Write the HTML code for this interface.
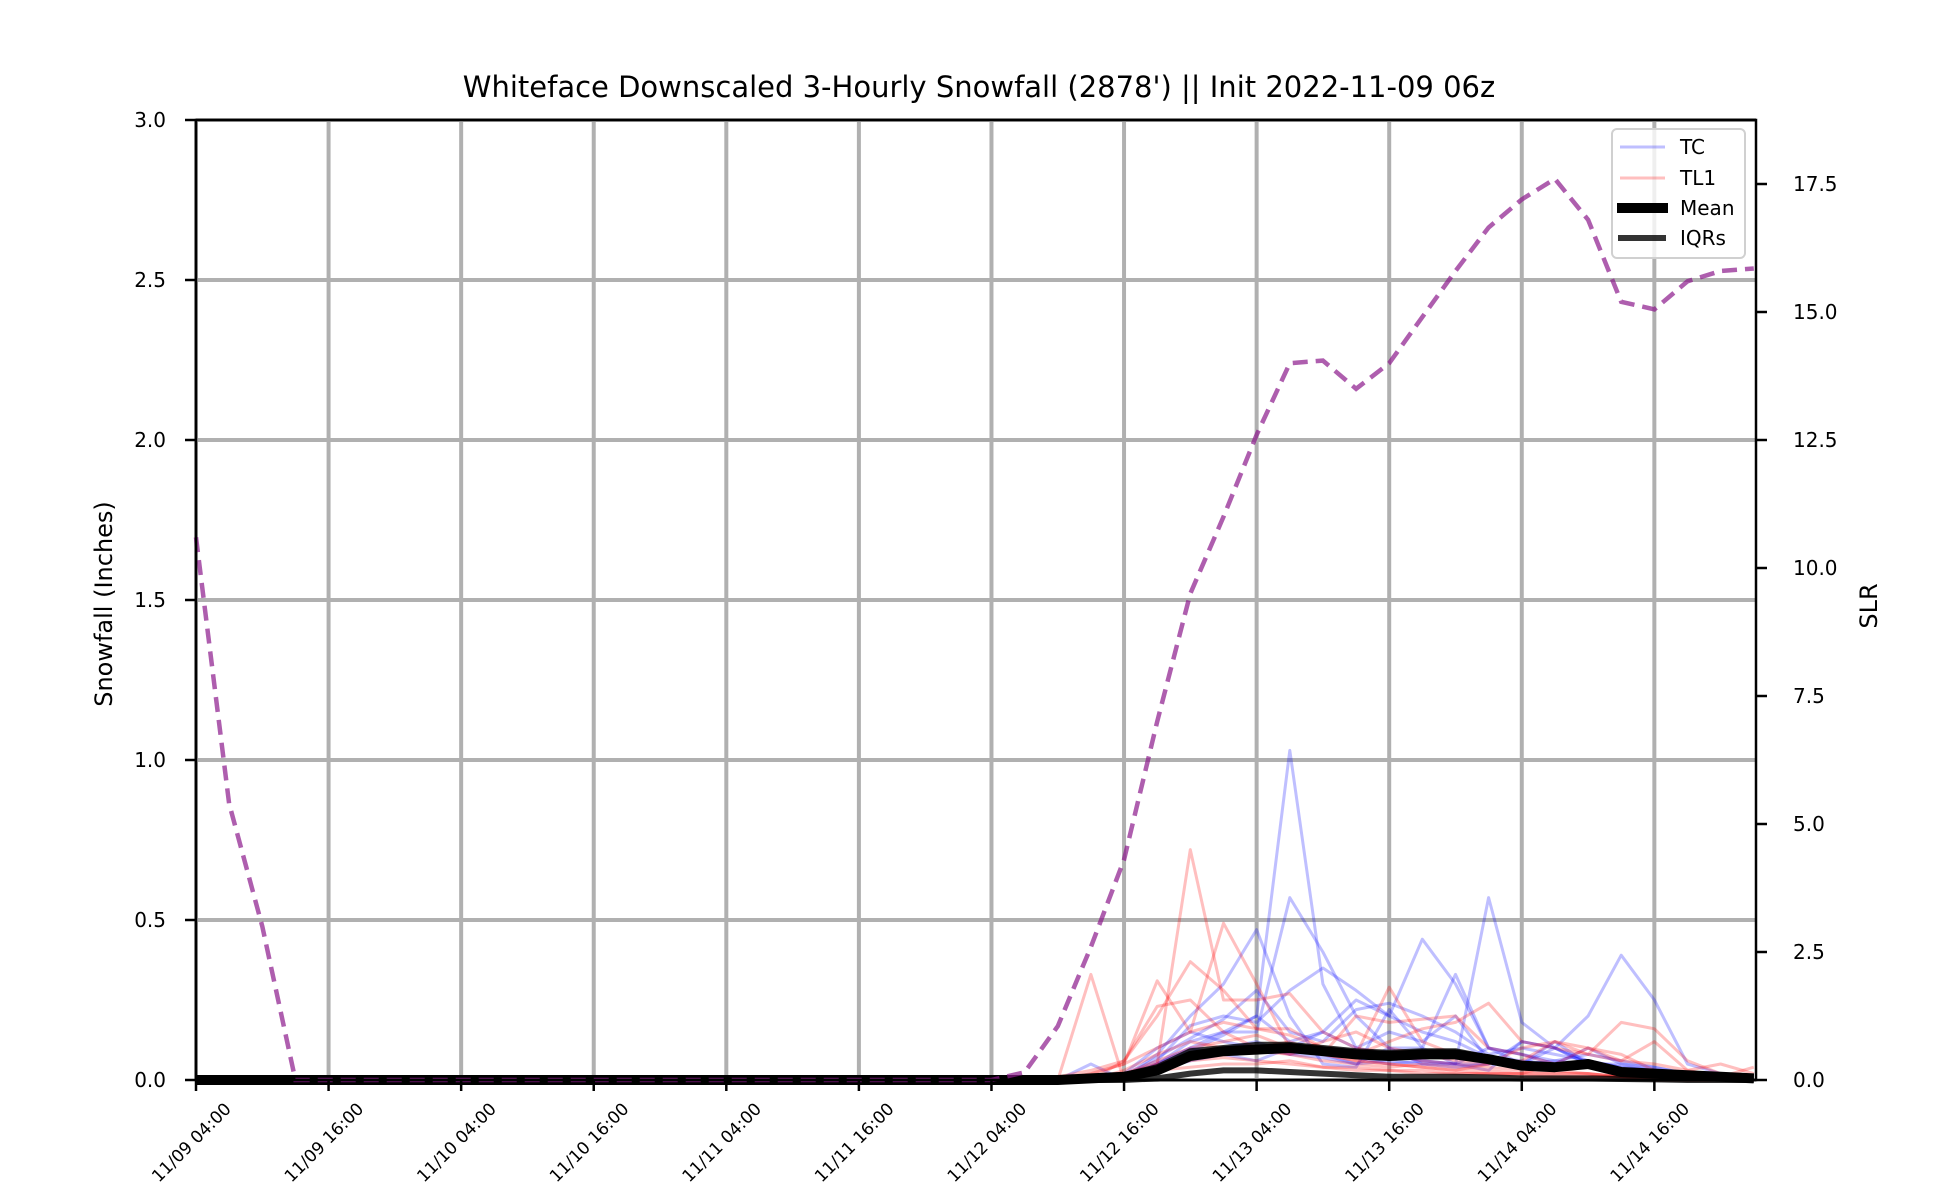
<!DOCTYPE html>
<html><head><meta charset="utf-8"><style>
html,body{margin:0;padding:0;background:#fff;}
svg{display:block;font-family:"DejaVu Sans","Liberation Sans",sans-serif;}
</style></head><body>
<svg id="chart" width="1950" height="1200" viewBox="0 0 1950 1200" xmlns="http://www.w3.org/2000/svg">
<rect width="1950" height="1200" fill="#fff"/>
<text x="979" y="97" font-size="29" text-anchor="middle">Whiteface Downscaled 3-Hourly Snowfall (2878') || Init 2022-11-09 06z</text>
<text transform="translate(112,604) rotate(-90)" font-size="24" text-anchor="middle">Snowfall (Inches)</text>
<text transform="translate(1877,606) rotate(-90)" font-size="24" text-anchor="middle">SLR</text>
<g id="grid"></g>
<g id="members"></g>
<g id="stats"></g>
<g id="slr"></g>
<g id="axes"></g>
<g id="legend">
<rect x="1612" y="129" width="133" height="129" rx="5" fill="#fff" fill-opacity="0.8" stroke="#d0d0d0" stroke-width="2"/>
<line x1="1620" y1="147" x2="1665" y2="147" stroke="#0000ff" stroke-opacity="0.25" stroke-width="3"/>
<text x="1680" y="154" font-size="20">TC</text>
<line x1="1620" y1="178" x2="1665" y2="178" stroke="#ff0000" stroke-opacity="0.25" stroke-width="3"/>
<text x="1680" y="185" font-size="20">TL1</text>
<line x1="1617" y1="208" x2="1668" y2="208" stroke="#000" stroke-width="10"/>
<text x="1680" y="215" font-size="20">Mean</text>
<line x1="1618" y1="238" x2="1666" y2="238" stroke="#000" stroke-opacity="0.8" stroke-width="6"/>
<text x="1680" y="245" font-size="20">IQRs</text>
</g>
</svg>
<script>
// hours from 11/09 04:00; member data starts at hour 78, 3-hourly
const xTickLabels = ["11/09 04:00","11/09 16:00","11/10 04:00","11/10 16:00","11/11 04:00","11/11 16:00","11/12 04:00","11/12 16:00","11/13 04:00","11/13 16:00","11/14 04:00","11/14 16:00"];
const yTicks = [0,0.5,1.0,1.5,2.0,2.5,3.0];
const y2Ticks = [0,2.5,5,7.5,10,12.5,15,17.5];
const memberStartHour = 78;
const slrValues = [10.6,5.4,3.0,0,0,0,0,0,0,0,0,0,0,0,0,0,0,0,0,0,0,0,0,0,0,0.15,1.05,2.6,4.3,7.0,9.5,11.0,12.6,14.0,14.05,13.5,14.0,14.9,15.8,16.65,17.2,17.6,16.8,15.2,15.05,15.6,15.8,15.85];
const tcMembers = [
[0,0,0,0.05,0.1,0.15,0.2,1.03,0.3,0.1,0.08,0.06,0.05,0.1,0.08,0.05,0.1,0.05,0.03,0.02,0.01,0],
[0,0.05,0,0.05,0.12,0.15,0.15,0.57,0.4,0.2,0.1,0.05,0.04,0.05,0.12,0.1,0.06,0.04,0.03,0.02,0,0],
[0,0,0.01,0.08,0.2,0.3,0.47,0.2,0.05,0.04,0.22,0.1,0.05,0.03,0.12,0.1,0.05,0.03,0.02,0.01,0,0],
[0,0,0.02,0.1,0.15,0.12,0.1,0.1,0.15,0.25,0.2,0.44,0.3,0.1,0.05,0.06,0.08,0.06,0.04,0.02,0.01,0],
[0,0,0.01,0.05,0.1,0.08,0.06,0.1,0.08,0.05,0.1,0.1,0.33,0.1,0.08,0.06,0.05,0.05,0.04,0.02,0,0],
[0,0,0,0.02,0.08,0.1,0.12,0.08,0.07,0.05,0.06,0.05,0.05,0.57,0.18,0.1,0.05,0.03,0.02,0.01,0,0],
[0,0,0,0.03,0.06,0.08,0.1,0.08,0.1,0.07,0.05,0.06,0.05,0.05,0.05,0.1,0.2,0.39,0.25,0.05,0.02,0],
[0,0,0.01,0.06,0.17,0.2,0.18,0.28,0.35,0.28,0.2,0.15,0.12,0.07,0.06,0.05,0.04,0.03,0.02,0.01,0,0],
[0,0,0.01,0.07,0.13,0.19,0.28,0.15,0.12,0.22,0.24,0.2,0.15,0.08,0.1,0.08,0.06,0.04,0.03,0.01,0,0],
[0,0,0,0.04,0.09,0.14,0.2,0.12,0.15,0.1,0.15,0.12,0.2,0.06,0.05,0.12,0.05,0.03,0.02,0.01,0,0]
];
const tl1Members = [
[0,0.33,0,0.05,0.72,0.25,0.25,0.27,0.15,0.1,0.08,0.06,0.05,0.04,0.03,0.02,0.02,0.01,0.01,0,0,0],
[0,0.02,0.05,0.31,0.15,0.49,0.3,0.1,0.08,0.06,0.05,0.04,0.03,0.02,0.02,0.01,0.01,0.01,0,0,0,0],
[0,0,0.06,0.2,0.37,0.28,0.16,0.16,0.1,0.08,0.29,0.12,0.08,0.06,0.05,0.03,0.02,0.01,0.01,0,0,0],
[0.01,0.03,0.06,0.23,0.25,0.15,0.1,0.12,0.08,0.2,0.18,0.19,0.2,0.1,0.08,0.05,0.04,0.03,0.02,0.01,0,0],
[0,0.02,0.05,0.1,0.15,0.18,0.16,0.14,0.1,0.08,0.12,0.16,0.18,0.24,0.12,0.1,0.08,0.18,0.16,0.06,0.02,0],
[0,0,0.03,0.08,0.12,0.1,0.09,0.08,0.12,0.15,0.1,0.08,0.06,0.05,0.1,0.12,0.1,0.06,0.12,0.03,0.05,0.02],
[0,0,0.02,0.06,0.1,0.12,0.14,0.1,0.08,0.06,0.05,0.04,0.03,0.05,0.06,0.12,0.08,0.06,0.05,0.03,0.01,0.04],
[0,0,0.02,0.05,0.08,0.09,0.1,0.08,0.06,0.05,0.04,0.05,0.04,0.03,0.02,0.05,0.1,0.08,0.03,0.02,0.01,0],
[0,0,0.01,0.04,0.06,0.07,0.06,0.05,0.04,0.04,0.03,0.03,0.02,0.02,0.02,0.02,0.02,0.01,0.01,0,0,0],
[0,0,0.01,0.03,0.04,0.05,0.05,0.06,0.04,0.03,0.03,0.02,0.02,0.02,0.01,0.01,0.01,0.01,0,0,0,0]
];
const meanValues = [0,0.005,0.01,0.03,0.075,0.09,0.095,0.1,0.09,0.08,0.075,0.08,0.08,0.065,0.045,0.04,0.05,0.025,0.02,0.015,0.01,0.005];
const q25Values = [0,0,0,0.005,0.02,0.03,0.03,0.025,0.02,0.015,0.01,0.01,0.01,0.008,0.005,0.005,0.005,0.003,0.002,0,0,0];
const q75Values = [0,0.01,0.015,0.04,0.09,0.1,0.11,0.11,0.1,0.09,0.085,0.09,0.09,0.07,0.05,0.045,0.055,0.03,0.025,0.02,0.01,0.005];

const L=196,R=1756,T=120,B=1080,HMAX=141.2,YMAX=3.0,Y2MAX=18.75;
const NS="http://www.w3.org/2000/svg";
const xS=h=>L+(h/HMAX)*(R-L);
const yS=v=>B-(v/YMAX)*(B-T);
const y2S=v=>B-(v/Y2MAX)*(B-T);
function mk(tag,attrs,parent){const e=document.createElementNS(NS,tag);for(const k in attrs)e.setAttribute(k,attrs[k]);parent.appendChild(e);return e;}
const grid=document.getElementById('grid'),axes=document.getElementById('axes');
xTickLabels.forEach((lab,i)=>{
  const x=xS(i*12);
  const g=mk('line',{x1:x,x2:x,y1:T,y2:B,stroke:'#b0b0b0','stroke-width':4},grid);
  
  
  const t=mk('line',{x1:x,x2:x,y1:B,y2:B+11,stroke:'#000','stroke-width':2.5},axes);
  
  
  const tx=mk('text',{transform:`translate(${x+36},${B+30}) rotate(-45)`,'font-size':17,'text-anchor':'end'},axes);
  tx.textContent=lab;
  
  
});
yTicks.forEach(v=>{
  const y=yS(v);
  const g=mk('line',{x1:L,x2:R,y1:y,y2:y,stroke:'#b0b0b0','stroke-width':4},grid);
  
  
  const t=mk('line',{x1:L-11,x2:L,y1:y,y2:y,stroke:'#000','stroke-width':2.5},axes);
  
  
  const tx=mk('text',{x:L-30,y:y+7,'font-size':20,'text-anchor':'end'},axes);
  tx.textContent=v.toFixed(1);
  
  
});
y2Ticks.forEach(v=>{
  const y=y2S(v);
  const t=mk('line',{x1:R,x2:R+11,y1:y,y2:y,stroke:'#000','stroke-width':2.5},axes);
  
  
  const tx=mk('text',{x:R+37,y:y+7,'font-size':20},axes);
  tx.textContent=v.toFixed(1);
  
  
});
const fr=mk('rect',{x:L,y:T,width:R-L,height:B-T,fill:'none',stroke:'#000','stroke-width':2.5},axes);



function pts(arr,start,sc){return arr.map((v,i)=>xS(start+i*3).toFixed(1)+','+sc(v).toFixed(1)).join(' ');}
const mem=document.getElementById('members');
tcMembers.forEach(a=>{
  const p=mk('polyline',{points:pts(a,memberStartHour,yS),fill:'none',stroke:'#0000ff','stroke-opacity':0.25,'stroke-width':3,'stroke-linejoin':'round'},mem);
  
  
});
tl1Members.forEach(a=>{
  const p=mk('polyline',{points:pts(a,memberStartHour,yS),fill:'none',stroke:'#ff0000','stroke-opacity':0.25,'stroke-width':3,'stroke-linejoin':'round'},mem);
  
  
});
const st=document.getElementById('stats');
function full(a){return pts([0].concat(a),memberStartHour-3,yS);}
function lead(){return xS(0).toFixed(1)+','+yS(0).toFixed(1)+' ';}
[q25Values,q75Values].forEach(a=>{
  const p=mk('polyline',{points:lead()+full(a),fill:'none',stroke:'#000','stroke-opacity':0.8,'stroke-width':6,'stroke-linejoin':'round'},st);
  
  
});
const mp=mk('polyline',{points:lead()+full(meanValues),fill:'none',stroke:'#000','stroke-width':10,'stroke-linejoin':'round'},st);


const sp=mk('polyline',{points:pts(slrValues,0,y2S),fill:'none',stroke:'#8b1a8b','stroke-opacity':0.7,'stroke-width':4.5,'stroke-dasharray':'15,8'},document.getElementById('slr'));


</script>
</body></html>
